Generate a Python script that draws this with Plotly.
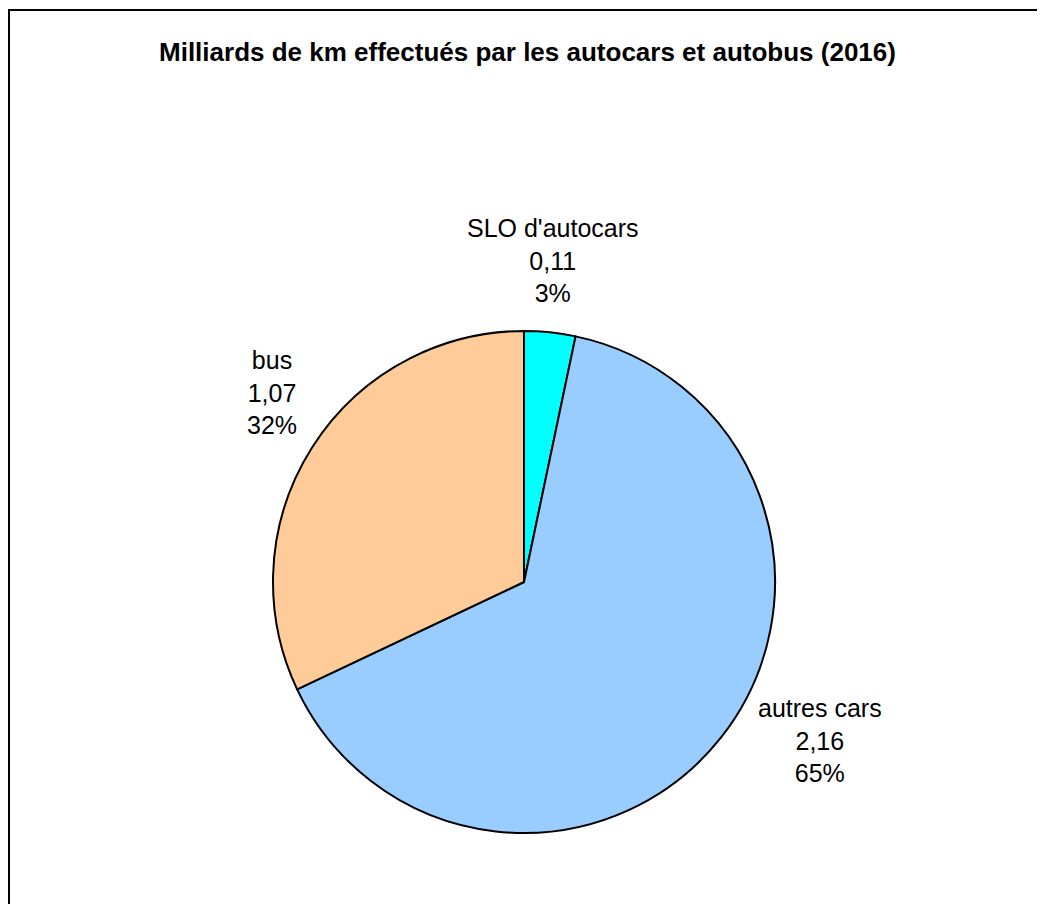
import plotly.graph_objects as go

categories = ["SLO d'autocars", "autres cars", "bus"]
values = [0.11, 2.16, 1.07]
colors = ["#00FFFF", "#99CCFF", "#FFCC99"]
title_text = "Milliards de km effectués par les autocars et autobus (2016)"

total = sum(values)

W, H = 1045, 904
OFF = 8  # page body margin offset
cx, cy, r = 524 - OFF, 582 - OFF, 251

fig = go.Figure(go.Pie(
    labels=categories,
    values=values,
    sort=False,
    direction="clockwise",
    rotation=0,
    marker=dict(colors=colors, line=dict(color="black", width=2)),
    textinfo="none",
    hoverinfo="label+value+percent",
    showlegend=False,
    domain=dict(x=[(cx - r) / W, (cx + r) / W], y=[(H - cy - r) / H, (H - cy + r) / H]),
))

# label positions (pixel coordinates of centre of label block)
label_pos = [(553, 260), (820, 740), (272, 392)]
for cat, val, (lx, ly) in zip(categories, values, label_pos):
    pct = round(100 * val / total)
    txt = f"{cat}<br>{val:.2f}".replace(".", ",") + f"<br>{pct}%"
    fig.add_annotation(
        x=(lx - OFF) / W, y=1 - (ly - OFF) / H, xref="paper", yref="paper",
        text=txt, showarrow=False, xanchor="center", yanchor="middle",
        font=dict(family="Liberation Sans, Arial, sans-serif", size=25, color="black"),
        align="center",
    )

fig.add_annotation(
    x=(527 - OFF) / W, y=1 - (52 - OFF) / H, xref="paper", yref="paper",
    text=f"<b>{title_text}</b>", showarrow=False, xanchor="center", yanchor="middle",
    font=dict(family="Liberation Sans, Arial, sans-serif", size=26, color="black"),
)

fig.add_shape(type="rect", xref="paper", yref="paper",
              x0=1 / W, x1=1.02, y0=-0.02, y1=1 - (10 - OFF) / H,
              line=dict(color="black", width=2), fillcolor="rgba(0,0,0,0)")

fig.update_layout(
    width=W, height=H,
    margin=dict(l=0, r=0, t=0, b=0),
    paper_bgcolor="white", plot_bgcolor="white",
    separators=", ",
)

fig.write_html("out.html")
